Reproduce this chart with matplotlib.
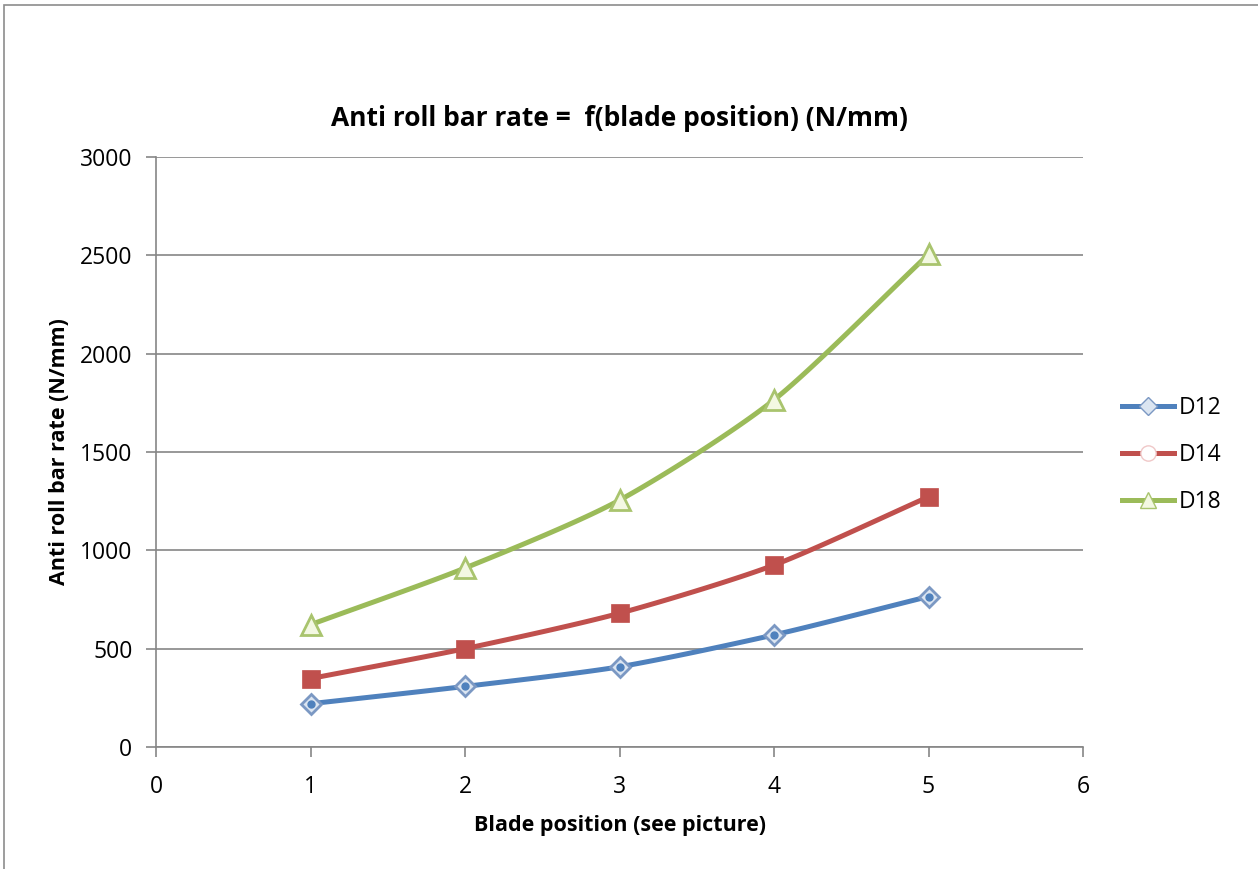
import numpy as np
import matplotlib
matplotlib.use("Agg")
import matplotlib.pyplot as plt
from matplotlib.lines import Line2D
from matplotlib.patches import Rectangle

# ---- data ----
blade_position = [1, 2, 3, 4, 5]
d12 = [220, 308, 408, 570, 765]
d14 = [348, 500, 680, 925, 1272]
d18 = [622, 910, 1255, 1765, 2505]
series_names = ["D12", "D14", "D18"]

title = "Anti roll bar rate =  f(blade position) (N/mm)"
xlabel = "Blade position (see picture)"
ylabel = "Anti roll bar rate (N/mm)"
x_ticks = [0, 1, 2, 3, 4, 5, 6]
y_ticks = [0, 500, 1000, 1500, 2000, 2500, 3000]

plt.rcParams['font.family'] = ['Open Sans', 'DejaVu Sans']

W, H = 1258, 869
fig = plt.figure(figsize=(W / 100, H / 100), dpi=100)
fig.patch.set_facecolor("white")

# outer chart frame
fig.add_artist(Rectangle((4 / W, -0.05), 1.2, (H - 5) / H + 0.05, transform=fig.transFigure,
                         fill=False, edgecolor="#8c8c8c", linewidth=1.2))

ax = fig.add_axes([156 / W, (H - 747) / H, (1083 - 156) / W, (747 - 157) / H])


def smooth(xs, ys, n=30):
    """Catmull-Rom style smoothed path through the points (Excel smoothed line look)."""
    xs = np.asarray(xs, float)
    ys = np.asarray(ys, float)
    px = np.concatenate([[2 * xs[0] - xs[1]], xs, [2 * xs[-1] - xs[-2]]])
    py = np.concatenate([[2 * ys[0] - ys[1]], ys, [2 * ys[-1] - ys[-2]]])
    ox, oy = [], []
    t = np.linspace(0, 1, n)
    for i in range(1, len(px) - 2):
        for P, out in ((px, ox), (py, oy)):
            p0, p1, p2, p3 = P[i - 1], P[i], P[i + 1], P[i + 2]
            m1 = (p2 - p0) / 2 * 0.75
            m2 = (p3 - p1) / 2 * 0.75
            h00 = 2 * t**3 - 3 * t**2 + 1
            h10 = t**3 - 2 * t**2 + t
            h01 = -2 * t**3 + 3 * t**2
            h11 = t**3 - t**2
            out.extend(h00 * p1 + h10 * m1 + h01 * p2 + h11 * m2)
    return np.array(ox), np.array(oy)


blue, red, green = "#4f81bd", "#c0504d", "#9bbb59"
lw = 3.6

for ys, c in ((d12, blue), (d14, red), (d18, green)):
    sx, sy = smooth(blade_position, ys)
    ax.plot(sx, sy, color=c, lw=lw, solid_capstyle="round", zorder=3)

ax.plot(blade_position, d12, ls="none", marker="D", ms=10, mfc="#dbe5f1", mec="#7b98c3", mew=2, zorder=4)
ax.plot(blade_position, d12, ls="none", marker="o", ms=5, mfc=blue, mec=blue, zorder=5)
ax.plot(blade_position, d14, ls="none", marker="s", ms=13, mfc=red, mec=red, mew=0.5, zorder=4)
ax.plot(blade_position, d18, ls="none", marker="^", ms=14, mfc="#f3f8e2", mec="#a9c46e", mew=2, zorder=4)

ax.set_xlim(0, 6)
ax.set_ylim(0, 3000)
ax.set_xticks(x_ticks)
ax.set_yticks(y_ticks)
ax.tick_params(axis="both", labelsize=16.5, color="#868686", length=7, width=1.2)
ax.tick_params(axis="x", pad=13)
ax.tick_params(axis="y", pad=10)
ax.yaxis.grid(True, color="#868686", lw=1.2)
ax.set_axisbelow(True)
for s in ("top", "right"):
    ax.spines[s].set_visible(False)
for s in ("left", "bottom"):
    ax.spines[s].set_color("#868686")
    ax.spines[s].set_linewidth(1.2)

ax.set_title(title, fontsize=19, fontweight="bold", pad=22)
ax.set_xlabel(xlabel, fontsize=15.5, fontweight="bold", labelpad=12)
ax.set_ylabel(ylabel, fontsize=15.5, fontweight="bold", labelpad=7)

handles = [
    Line2D([], [], color=blue, lw=lw, marker="D", ms=9, mfc="#dbe5f1", mec="#7b98c3"),
    Line2D([], [], color=red, lw=lw, marker="o", ms=11, mfc="white", mec="#f0c8c8"),
    Line2D([], [], color=green, lw=lw, marker="^", ms=11, mfc="#f3f8e2", mec="#a9c46e"),
]
fig.legend(handles, series_names, loc="center left", bbox_to_anchor=(1101 / W, (H - 455) / H),
           frameon=False, fontsize=16.5, handlelength=2.3, handletextpad=0.2, labelspacing=1.0)

fig.savefig("out.png", dpi=100, facecolor="white")
